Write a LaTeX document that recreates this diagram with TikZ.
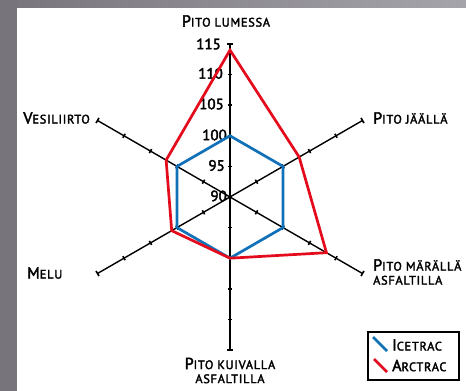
\documentclass[tikz,border=0pt]{standalone}
\usepackage{fontspec}
\usetikzlibrary{calc}
\setmainfont{PT Sans}[FakeBold=2.5]
\definecolor{icecol}{HTML}{1070B8}
\definecolor{arccol}{HTML}{E30B1C}
\definecolor{stripL}{HTML}{77757B}
\definecolor{stripR}{HTML}{A5A4AA}
\newcommand\mysc[2]{{\fontsize{16}{16}\selectfont #1}{\fontsize{12.3}{12.3}\selectfont\addfontfeature{LetterSpace=6}#2}}
\tikzset{
  axisline/.style={line width=1.4pt, black},
  tickmark/.style={line width=1.6pt, black},
  series/.style={line width=2.7pt, line join=miter},
  lbl/.style={inner sep=0pt, font=\fontsize{12.3}{14}\selectfont},
  num/.style={inner sep=0pt, anchor=east, font=\fontsize{15}{15}\selectfont},
}
\begin{document}
\begin{tikzpicture}[x=1pt,y=1pt]
\useasboundingbox (0,0) rectangle (466,391);
\fill[white] (0,0) rectangle (466,391);
\shade[left color=stripL, right color=stripR] (0,383) rectangle (466,391);
\fill[stripL] (0,0) rectangle (17,391);
\fill[white] (17,0) rectangle (466,383);

\coordinate (C) at (230,194);
\def\u{30.6}
% axes
\foreach \a/\n in {90/top,30/ur,-30/lr,-90/bot,-150/ll,150/ul}{
  \coordinate (E\n) at ($(C)+(\a:153pt)$);
  \draw[axisline] (C) -- (E\n);
  \foreach \k in {1,2,3,4}{
    \draw[tickmark] ($(C)+(\a:\k*\u pt)+(\a+90:2.3pt)$) -- ($(C)+(\a:\k*\u pt)+(\a-90:2.3pt)$);
  }
  \draw[tickmark] ($(E\n)+(\a+90:3pt)$) -- ($(E\n)+(\a-90:3pt)$);
}

% numbers
\node[num] (n115) at (221,347) {115};
\node[num] (n110) at (223,317.6) {110};
\node[num] (n105) at (224,287) {105};
\node[num] (n100) at (227,256) {100};
\node[num] (n95) at (225,225.5) {95};
\node[num] (n90) at (227,195) {90};

% series
\draw[series, icecol] ($(C)+(90:2*\u pt)$) -- ($(C)+(30:2*\u pt)$) -- ($(C)+(-30:2*\u pt)$) -- ($(C)+(-90:2*\u pt)$) -- ($(C)+(-150:2*\u pt)$) -- ($(C)+(150:2*\u pt)$) -- cycle;
\draw[series, arccol] ($(C)+(90:4.8*\u pt)$) -- ($(C)+(30:2.61*\u pt)$) -- ($(C)+(-30:3.64*\u pt)$) -- ($(C)+(-90:2*\u pt)$) -- ($(C)+(-150:2.2*\u pt)$) -- ($(C)+(150:2.41*\u pt)$) -- cycle;

% labels
\node[lbl] (ltop) at (226,370) {\mysc{P}{ITO LUMESSA}};
\node[lbl, anchor=west] (lur) at (373,273) {\mysc{P}{ITO JÄÄLLÄ}};
\node[lbl, anchor=east] (lul) at (90,273) {\mysc{V}{ESILIIRTO}};
\node[lbl, anchor=west] (lll) at (27,118) {\mysc{M}{ELU}};
\node[lbl, anchor=west, align=left] (llr) at (373,119) {\mysc{P}{ITO MÄRÄLLÄ}\\{\addfontfeature{LetterSpace=6}ASFALTILLA}};
\node[lbl, align=center] (lbot) at (230,20.5) {\mysc{P}{ITO KUIVALLA}\\{\addfontfeature{LetterSpace=6}ASFALTILLA}};

% legend
\draw[line width=1.1pt] (368,11) rectangle (459,59);
\coordinate (ib) at (373,54); \coordinate (ie) at (387,40);
\coordinate (ab) at (374,32); \coordinate (ae) at (387,19);
\draw[line width=2.7pt, icecol] (ib) -- (ie);
\draw[line width=2.7pt, arccol] (ab) -- (ae);
\node[lbl, anchor=west] (lice) at (392,46) {\mysc{I}{CETRAC}};
\node[lbl, anchor=west] (larc) at (392,25.5) {\mysc{A}{RCTRAC}};
\end{tikzpicture}
\end{document}
